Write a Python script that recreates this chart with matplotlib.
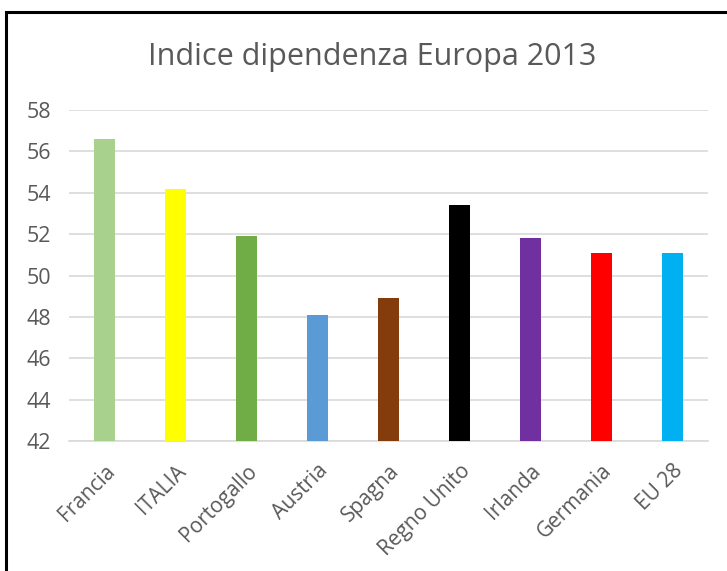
import matplotlib.pyplot as plt
import matplotlib.patches as patches

# ------------------ DATA ------------------
CATEGORIES = ['Francia', 'ITALIA', 'Portogallo', 'Austria', 'Spagna',
              'Regno Unito', 'Irlanda', 'Germania', 'EU 28']
VALUES = [56.6, 54.2, 51.9, 48.1, 48.9, 53.4, 51.8, 51.1, 51.1]
COLORS = ['#A9D18E', '#FFFF00', '#70AD47', '#5B9BD5', '#843C0C',
          '#000000', '#7030A0', '#FF0000', '#00B0F0']
YTICKS = [42, 44, 46, 48, 50, 52, 54, 56, 58]

TEXT_GRAY = '#595959'
plt.rcParams['font.family'] = ['Open Sans', 'DejaVu Sans']

W, H = 727, 571
fig = plt.figure(figsize=(W / 100, H / 100), dpi=100)
ax = fig.add_axes([69 / W, 1 - 441 / H, (708 - 69) / W, (441 - 110) / H])

x = range(len(CATEGORIES))
ax.bar(x, VALUES, width=0.3, color=COLORS, zorder=3)

ax.set_ylim(42, 58)
ax.set_xlim(-0.5, len(CATEGORIES) - 0.5)
ax.set_yticks(YTICKS)
ax.set_yticklabels([str(v) for v in YTICKS], fontsize=15.5, color=TEXT_GRAY)
ax.set_xticks(list(x))
ax.set_xticklabels(CATEGORIES, rotation=45, ha='right', rotation_mode='anchor',
                   fontsize=15, color=TEXT_GRAY)
ax.tick_params(axis='both', length=0)
ax.tick_params(axis='y', pad=13)
ax.tick_params(axis='x', pad=14)

ax.grid(axis='y', color='#D9D9D9', linewidth=1.2, zorder=0)
for side in ['top', 'right', 'left']:
    ax.spines[side].set_visible(False)
ax.spines['bottom'].set_color('#D9D9D9')
ax.spines['bottom'].set_linewidth(1.2)

fig.text(372 / W, 1 - 57 / H, 'Indice dipendenza Europa 2013', ha='center', va='center',
         fontsize=22, color=TEXT_GRAY)

# outer chart frame (only left and top edges visible in the crop)
frame = patches.Rectangle((6 / W, -0.2), 1.5, 1.2 - 12 / H, transform=fig.transFigure,
                          fill=False, edgecolor='black', linewidth=2.2)
fig.patches.append(frame)

fig.savefig('out.png', dpi=100)
